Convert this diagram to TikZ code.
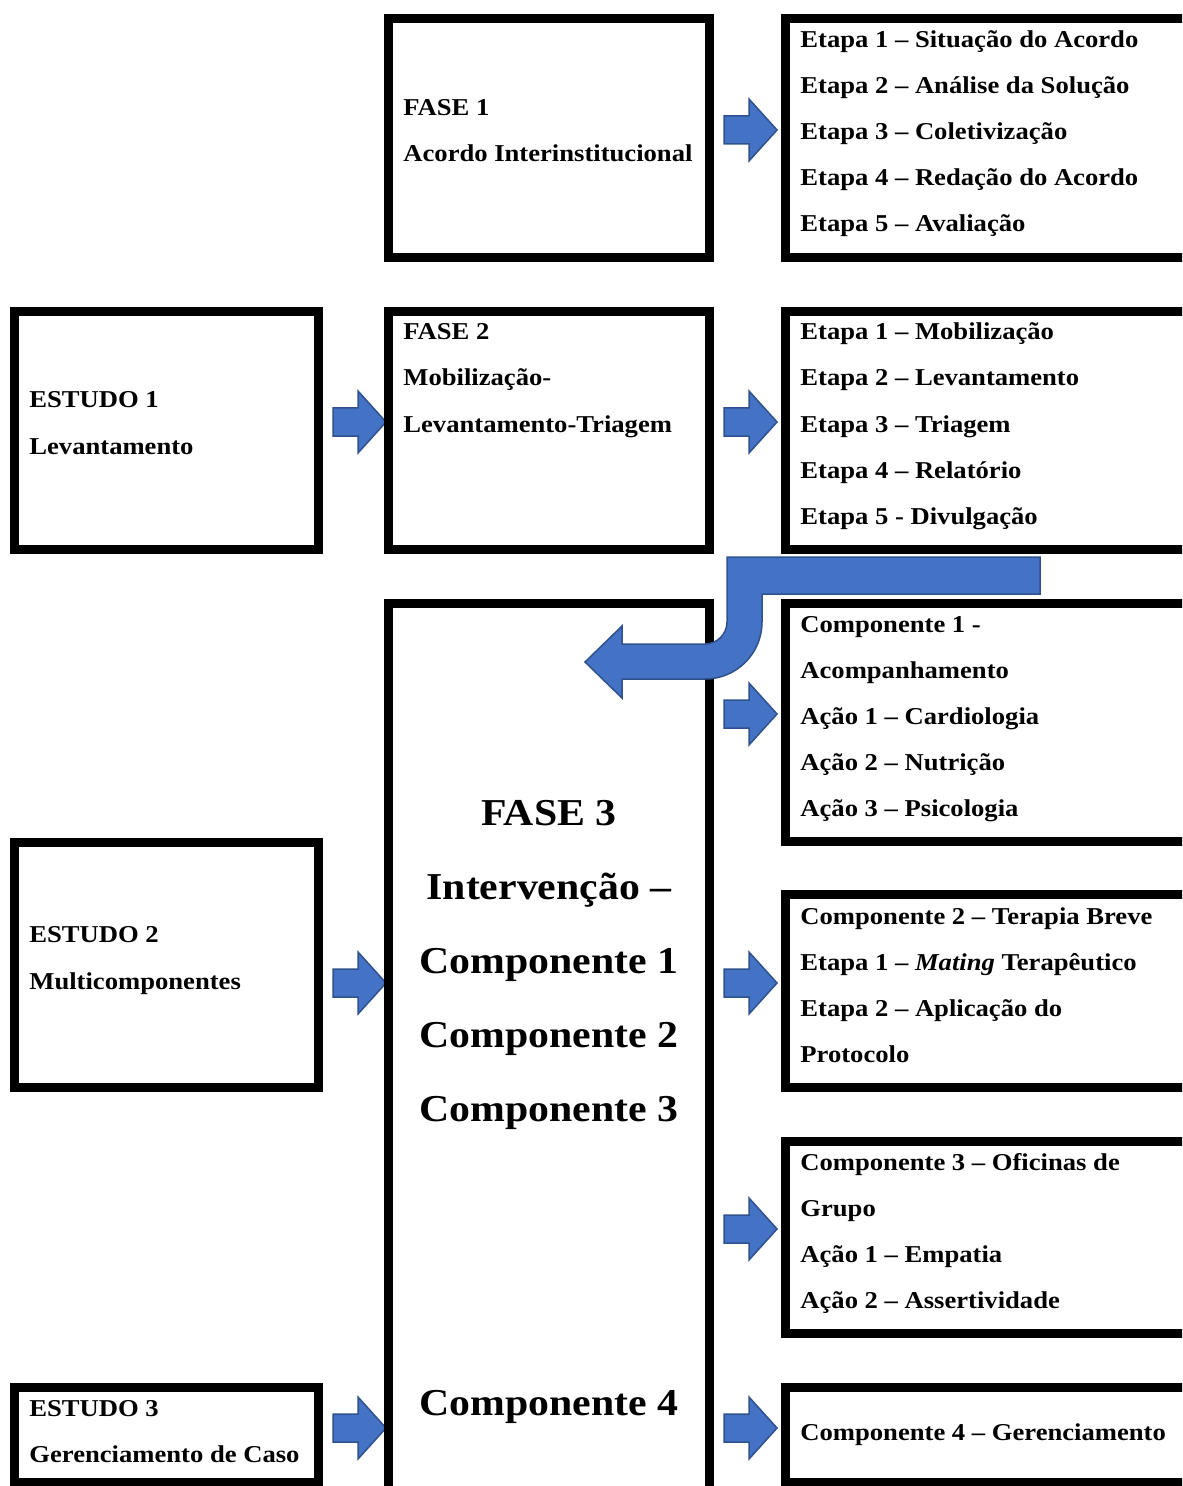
\documentclass[tikz,border=0pt]{standalone}
\usepackage{fontspec}
\setmainfont[FakeStretch=1.10]{Liberation Serif}
\definecolor{arrfill}{HTML}{4472C4}
\definecolor{arrline}{HTML}{2F528F}
\tikzset{
  boxst/.style={line width=4.5pt, draw=black},
  blockarrow/.style={fill=arrfill, draw=arrline, line width=0.75pt, line join=miter},
  lbl/.style={anchor=base west, inner sep=0pt, font=\fontsize{12.1}{14}\selectfont\bfseries},
  big/.style={anchor=base, inner sep=0pt, font=\fontsize{19}{22}\selectfont\bfseries},
  barrow/.pic={\path[blockarrow] (0,-14) -- (25,-14) -- (25,-31) -- (53,0) -- (25,31) -- (25,14) -- (0,14) -- cycle;}
}
\begin{document}
\begin{tikzpicture}[x=0.5pt,y=-0.5pt]
\useasboundingbox (0,0) rectangle (1182,1486);
\clip (0,0) rectangle (1182,1486);
\fill[white] (0,0) rectangle (1182,1486);

% small block arrows
\pic at (724,130) {barrow};
\pic at (333,422) {barrow};
\pic at (724,422) {barrow};
\pic at (724,714) {barrow};
\pic at (333,983) {barrow};
\pic at (724,983) {barrow};
\pic at (724,1229) {barrow};
\pic at (333,1428) {barrow};
\pic at (724,1428) {barrow};

% boxes
\draw[boxst] (388.5,18.5) rectangle (709.5,257.5);
\draw[boxst] (785.5,18.5) rectangle (1200,257.5);
\draw[boxst] (14.5,311.5) rectangle (318.5,549);
\draw[boxst] (388.5,311.5) rectangle (709.5,549);
\draw[boxst] (785.5,311.5) rectangle (1200,549);
\draw[boxst] (388.5,603.5) rectangle (709.5,1500);
\draw[boxst] (785.5,603.5) rectangle (1200,841);
\draw[boxst] (14.5,842) rectangle (318.5,1087);
\draw[boxst] (785.5,894.5) rectangle (1200,1087);
\draw[boxst] (785.5,1141.5) rectangle (1200,1333.5);
\draw[boxst] (14.5,1387.5) rectangle (318.5,1482);
\draw[boxst] (785.5,1387.5) rectangle (1200,1482);

% FASE 1
\node[lbl] (f1a) at (403,116) {FASE 1};
\node[lbl] (f1b) at (403,162) {Acordo Interinstitucional};
\node[lbl] (e1a) at (800,48) {Etapa 1 – Situação do Acordo};
\node[lbl] (e1b) at (800,94) {Etapa 2 – Análise da Solução};
\node[lbl] (e1c) at (800,140) {Etapa 3 – Coletivização};
\node[lbl] (e1d) at (800,186) {Etapa 4 – Redação do Acordo};
\node[lbl] (e1e) at (800,232) {Etapa 5 – Avaliação};

% row 2
\node[lbl] (s1a) at (29,408) {ESTUDO 1};
\node[lbl] (s1b) at (29,454) {Levantamento};
\node[lbl] (f2a) at (403,340) {FASE 2};
\node[lbl] (f2b) at (403,386) {Mobilização-};
\node[lbl] (f2c) at (403,432) {Levantamento-Triagem};
\node[lbl] (e2a) at (800,340) {Etapa 1 – Mobilização};
\node[lbl] (e2b) at (800,386) {Etapa 2 – Levantamento};
\node[lbl] (e2c) at (800,432) {Etapa 3 – Triagem};
\node[lbl] (e2d) at (800,478) {Etapa 4 – Relatório};
\node[lbl] (e2e) at (800,524) {Etapa 5 - Divulgação};

% FASE 3
\node[big] (f3a) at (549,825) {FASE 3};
\node[big] (f3b) at (549,899) {Intervenção –};
\node[big] (f3c) at (549,973) {Componente 1};
\node[big] (f3d) at (549,1047) {Componente 2};
\node[big] (f3e) at (549,1121) {Componente 3};
\node[big] (f3f) at (549,1415) {Componente 4};

\node[lbl] (c1a) at (800,632) {Componente 1 -};
\node[lbl] (c1b) at (800,678) {Acompanhamento};
\node[lbl] (c1c) at (800,724) {Ação 1 – Cardiologia};
\node[lbl] (c1d) at (800,770) {Ação 2 – Nutrição};
\node[lbl] (c1e) at (800,816) {Ação 3 – Psicologia};

\node[lbl] (s2a) at (29,942) {ESTUDO 2};
\node[lbl] (s2b) at (29,989) {Multicomponentes};

\node[lbl] (c2a) at (800,924) {Componente 2 – Terapia Breve};
\node[lbl] (c2b) at (800,970) {Etapa 1 – \textit{Mating} Terapêutico};
\node[lbl] (c2c) at (800,1016) {Etapa 2 – Aplicação do};
\node[lbl] (c2d) at (800,1062) {Protocolo};

\node[lbl] (c3a) at (800,1170) {Componente 3 – Oficinas de};
\node[lbl] (c3b) at (800,1216) {Grupo};
\node[lbl] (c3c) at (800,1262) {Ação 1 – Empatia};
\node[lbl] (c3d) at (800,1308) {Ação 2 – Assertividade};

\node[lbl] (s3a) at (29,1416) {ESTUDO 3};
\node[lbl] (s3b) at (29,1462) {Gerenciamento de Caso};
\node[lbl] (c4a) at (800,1440) {Componente 4 – Gerenciamento};

% bent arrow
\path[blockarrow] (727,557) -- (1040,557) -- (1040,594) -- (762,594) -- (762,622)
  .. controls (762,653.5) and (736.5,679) .. (705,679) -- (622,679) -- (622,698)
  -- (585,662) -- (622,626) -- (622,644) -- (705,644)
  .. controls (717.1,644) and (727,634.1) .. (727,622) -- cycle;
\end{tikzpicture}
\end{document}
